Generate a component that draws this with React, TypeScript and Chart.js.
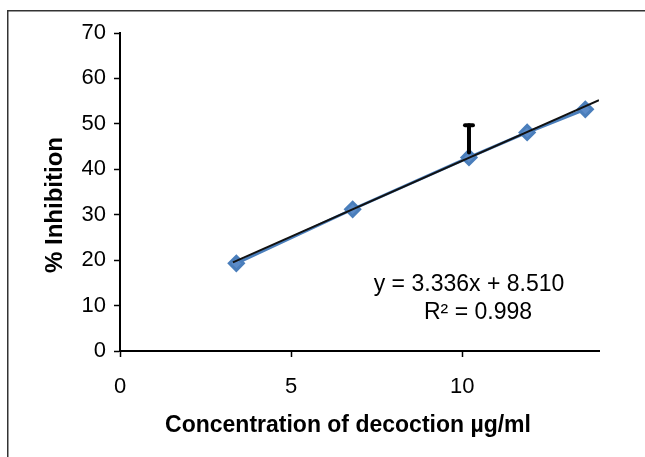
import React, { useEffect, useRef } from "react";
import { Chart, registerables } from "chart.js";

Chart.register(...registerables);

// ---- data ----
const concentrations = [3.4, 6.8, 10.2, 11.9, 13.6];
const inhibition = [19.3, 31.2, 42.6, 48.1, 53.2];
const errorPlus = [0, 0, 7.1, 0, 0];
const trendX = [3.3, 14.0];
const trendY = [19.5, 55.2];
const xTickValues = [0, 5, 10];
const yTickValues = [0, 10, 20, 30, 40, 50, 60, 70];
const equationText = "y = 3.336x + 8.510";
const r2Text = "R\u00B2 = 0.998";
const xTitle = "Concentration of decoction \u00B5g/ml";
const yTitle = "% Inhibition";

const FONT = "'Liberation Sans', Arial, sans-serif";

const overlayPlugin = {
  id: "overlay",
  beforeDraw(chart: any) {
    const ctx = chart.ctx;
    ctx.save();
    ctx.fillStyle = "#fff";
    ctx.fillRect(0, 0, chart.width, chart.height);
    ctx.strokeStyle = "#333";
    ctx.lineWidth = 1.5;
    ctx.strokeRect(7.75, 10.75, 800, 600);
    ctx.restore();
  },
  afterDraw(chart: any) {
    const ctx = chart.ctx;
    const xs = chart.scales.x;
    const ys = chart.scales.y;
    ctx.save();
    // error bars (positive only)
    ctx.strokeStyle = "#000";
    ctx.lineWidth = 4;
    ctx.lineCap = "round";
    concentrations.forEach((c, i) => {
      const e = errorPlus[i];
      if (!e) return;
      const px = xs.getPixelForValue(c);
      const p0 = ys.getPixelForValue(inhibition[i]);
      const p1 = ys.getPixelForValue(inhibition[i] + e);
      ctx.beginPath();
      ctx.moveTo(px, p0 - 5);
      ctx.lineTo(px, p1);
      ctx.stroke();
      ctx.beginPath();
      ctx.moveTo(px - 4, p1);
      ctx.lineTo(px + 4, p1);
      ctx.stroke();
    });
    // equation text
    ctx.fillStyle = "#000";
    ctx.textAlign = "center";
    ctx.textBaseline = "alphabetic";
    ctx.font = `23px ${FONT}`;
    ctx.fillText(equationText, 469, 291);
    ctx.fillText(r2Text, 478, 319);
    // axis titles
    ctx.font = `bold 23px ${FONT}`;
    ctx.fillText(xTitle, 348, 432);
    ctx.font = `bold 24px ${FONT}`;
    ctx.translate(62, 205);
    ctx.rotate(-Math.PI / 2);
    ctx.fillText(yTitle, 0, 0);
    ctx.restore();
  },
};

export default function App() {
  const ref = useRef<HTMLCanvasElement | null>(null);
  useEffect(() => {
    if (!ref.current) return;
    const chart = new Chart(ref.current, {
      type: "scatter",
      data: {
        datasets: [
          {
            label: "Trendline",
            data: trendX.map((x, i) => ({ x, y: trendY[i] })),
            showLine: true,
            borderColor: "#111",
            borderWidth: 2,
            pointRadius: 0,
          },
          {
            label: "% Inhibition",
            data: concentrations.map((x, i) => ({ x, y: inhibition[i] })),
            showLine: true,
            borderColor: "#4a7ebb",
            borderWidth: 3,
            backgroundColor: "#5b8bc8",
            pointBackgroundColor: "#5b8bc8",
            pointBorderColor: "#4a7ebb",
            pointStyle: "rectRot",
            pointRadius: 7,
          },
        ],
      },
      options: {
        responsive: false,
        animation: false,
        layout: { padding: { left: 0, top: 33, right: 46, bottom: 0 } },
        plugins: { legend: { display: false }, tooltip: { enabled: false } },
        scales: {
          x: {
            type: "linear",
            min: 0,
            max: 14,
            afterBuildTicks: (s: any) => {
              s.ticks = xTickValues.map((v) => ({ value: v }));
            },
            afterFit: (s: any) => {
              s.height = 106;
            },
            grid: {
              display: true,
              drawOnChartArea: false,
              drawTicks: true,
              tickLength: 6,
              tickColor: "#000",
              tickWidth: 1.5,
              color: "#000",
            },
            border: { display: true, color: "#000", width: 2 },
            ticks: {
              color: "#000",
              font: { family: FONT, size: 22 },
              padding: 17,
              maxRotation: 0,
            },
          },
          y: {
            type: "linear",
            min: 0,
            max: 70,
            afterBuildTicks: (s: any) => {
              s.ticks = yTickValues.map((v) => ({ value: v }));
            },
            afterFit: (s: any) => {
              s.width = 120;
            },
            grid: {
              display: true,
              drawOnChartArea: false,
              drawTicks: true,
              tickLength: 6,
              tickColor: "#000",
              tickWidth: 1.5,
              color: "#000",
            },
            border: { display: true, color: "#000", width: 2 },
            ticks: {
              color: "#000",
              font: { family: FONT, size: 22 },
              padding: 8,
            },
          },
        },
      },
      plugins: [overlayPlugin],
    });
    return () => chart.destroy();
  }, []);
  return (
    <div style={{ position: "fixed", left: 0, top: 0, width: 645, height: 457 }}>
      <canvas ref={ref} width={645} height={457} style={{ display: "block" }} />
    </div>
  );
}
